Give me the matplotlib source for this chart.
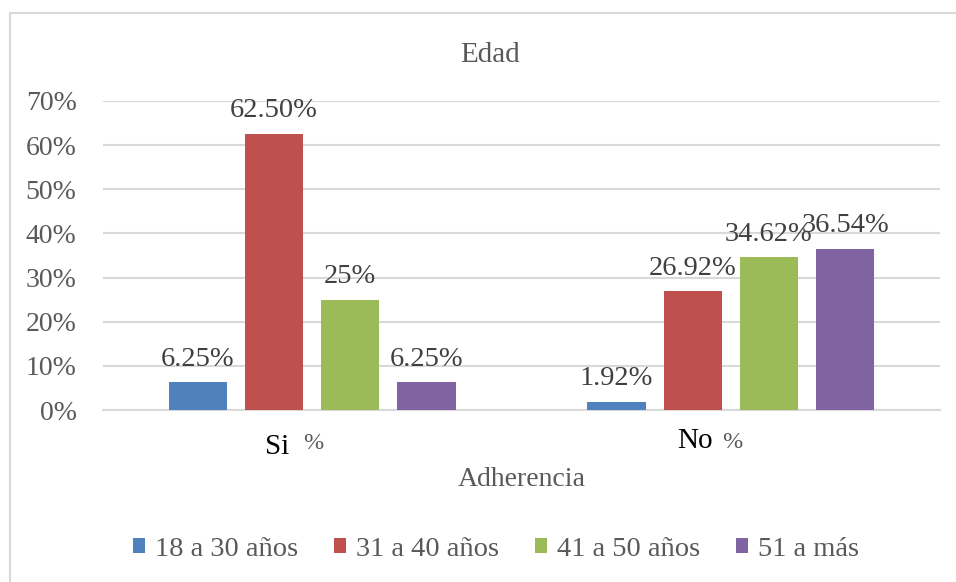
import matplotlib
matplotlib.use("Agg")
import matplotlib.pyplot as plt
from matplotlib.lines import Line2D
import numpy as np

categories = ["Si", "No"]
series_names = ["18 a 30 años", "31 a 40 años", "41 a 50 años", "51 a más"]
values = [
    [6.25, 1.92],
    [62.50, 26.92],
    [25.00, 34.62],
    [6.25, 36.54],
]
value_labels = [
    ["6.25%", "1.92%"],
    ["62.50%", "26.92%"],
    ["25%", "34.62%"],
    ["6.25%", "36.54%"],
]
colors = ["#4F81BD", "#C0504D", "#9BBB59", "#8064A2"]
yticks = [0, 10, 20, 30, 40, 50, 60, 70]

SERIF = ['Liberation Serif', 'DejaVu Serif']
plt.rcParams['font.family'] = SERIF

W, H = 956, 582
fig = plt.figure(figsize=(W / 100, H / 100), dpi=100)
ax = fig.add_axes([103 / W, 1 - 410 / H, (940 - 103) / W, (410 - 101) / H])

x = np.arange(len(categories))
bw = 0.139
step = 0.182
for i, (name, vals, c) in enumerate(zip(series_names, values, colors)):
    pos = x + (i - 1.5) * step
    bars = ax.bar(pos, vals, width=bw, color=c, label=name, zorder=3)
    for b, lab in zip(bars, value_labels[i]):
        ax.annotate(lab, (b.get_x() + b.get_width() / 2, b.get_height()),
                    xytext=(0, 12), textcoords="offset points",
                    ha="center", va="baseline", fontsize=20.5, color="#404040",
                    family=SERIF, zorder=5)

ax.set_xlim(-0.5, 1.5)
ax.set_ylim(0, 70)
ax.set_yticks(yticks)
ax.set_yticklabels([f"{t}%" for t in yticks], fontsize=20, color="#595959", family=SERIF)
ax.tick_params(axis="y", length=0, pad=19)
ax.tick_params(axis="x", length=0)
ax.set_xticks([])
ax.yaxis.grid(True, color="#D9D9D9", linewidth=1.5, zorder=0)
for s in ["top", "right", "left"]:
    ax.spines[s].set_visible(False)
ax.spines["bottom"].set_color("#D9D9D9")
ax.spines["bottom"].set_linewidth(1.5)

# category labels
cat_x_px = [265, 677]
cat_y_px = [454, 448]
pct_x_px = [303, 722]
pct_y_px = [449, 448]
for cat, cx, cy, px, py in zip(categories, cat_x_px, cat_y_px, pct_x_px, pct_y_px):
    fig.text(cx / W, 1 - cy / H, cat, fontsize=21, color="black", ha="left",
             va="baseline", family=SERIF)
    fig.text(px / W, 1 - py / H, "%", fontsize=17.5, color="#595959", ha="left",
             va="baseline", family=SERIF)

fig.text(522 / W, 1 - 486 / H, "Adherencia", fontsize=20, color="#595959",
         ha="center", va="baseline", family=SERIF)
fig.text(490 / W, 1 - 62 / H, "Edad", fontsize=21, color="#595959",
         ha="center", va="baseline", family=SERIF)

leg = fig.legend(loc="center", bbox_to_anchor=(496 / W, 1 - 549 / H), ncol=4,
                 frameon=False, prop={'family': SERIF, 'size': 20.5},
                 handlelength=0.42, handleheight=0.42,
                 handletextpad=0.35, columnspacing=1.26, borderpad=0, borderaxespad=0)
for t in leg.get_texts():
    t.set_color("#595959")

fig.add_artist(Line2D([10 / W, 10 / W], [0, 1 - 13 / H], transform=fig.transFigure,
                      color="#D9D9D9", linewidth=1.5))
fig.add_artist(Line2D([10 / W, 1], [1 - 13 / H, 1 - 13 / H], transform=fig.transFigure,
                      color="#D9D9D9", linewidth=1.5))

fig.savefig("out.png", dpi=100)
